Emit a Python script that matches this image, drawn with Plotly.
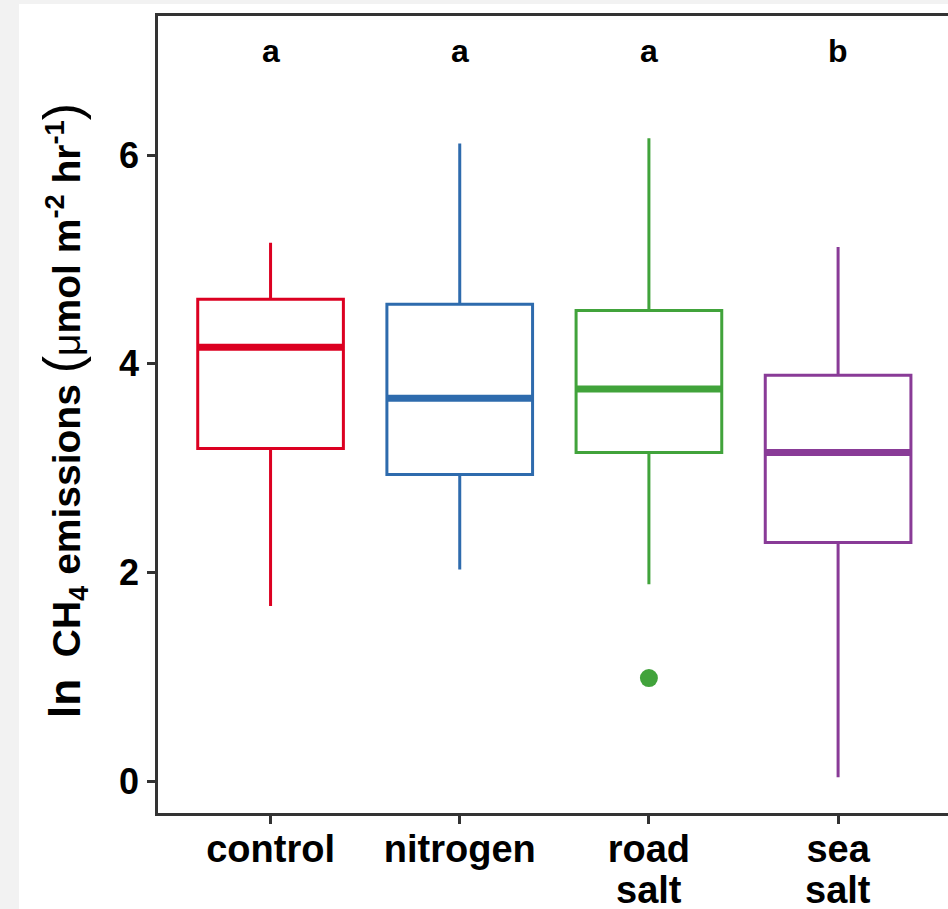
import plotly.graph_objects as go

# ---- data ----
categories = ["control", "nitrogen", "road salt", "sea salt"]
tick_lines = [["control"], ["nitrogen"], ["road", "salt"], ["sea", "salt"]]
lower_whisker = [1.68, 2.03, 1.89, 0.04]
q1 = [3.19, 2.94, 3.15, 2.29]
median = [4.16, 3.67, 3.76, 3.15]
q3 = [4.62, 4.57, 4.51, 3.89]
upper_whisker = [5.16, 6.11, 6.16, 5.12]
outlier_cat = ["road salt"]
outlier_val = [0.99]
letters = ["a", "a", "a", "b"]
letter_y = 7.0
colors = ["#DC0021", "#2E6BAD", "#41A33B", "#893B97"]
y_ticks = [0, 2, 4, 6]

# ---- layout constants ----
W, H = 948, 909
ML, MT, MB = 158, 16, 96
MR = 0
PW = W - ML - MR
PH = H - MT - MB
BOX_W = 0.77
FONT = "Liberation Sans"
AX = "#333333"
PAGE_BG = "#f2f2f2"
XFONT = 38
LINE2_TOP_PX = 868  # pixel top of second label line

pos = {c: i for i, c in enumerate(categories)}

fig = go.Figure()

for i, c in enumerate(categories):
    fig.add_trace(go.Box(
        x=[i], q1=[q1[i]], median=[median[i]], q3=[q3[i]],
        lowerfence=[lower_whisker[i]], upperfence=[upper_whisker[i]],
        width=BOX_W, fillcolor="rgba(0,0,0,0)",
        line=dict(color=colors[i], width=3), whiskerwidth=0,
        boxpoints=False, showlegend=False, hoverinfo="skip",
    ))
    # thicker median line, as in ggplot
    fig.add_trace(go.Scatter(
        x=[i - BOX_W / 2, i + BOX_W / 2], y=[median[i], median[i]],
        mode="lines", line=dict(color=colors[i], width=7),
        showlegend=False, hoverinfo="skip",
    ))

# outlier
fig.add_trace(go.Scatter(
    x=[pos[c] for c in outlier_cat], y=outlier_val, mode="markers",
    marker=dict(color=colors[pos[outlier_cat[0]]], size=18),
    showlegend=False, hoverinfo="skip",
))

# significance letters
for i, t in enumerate(letters):
    fig.add_annotation(x=i, y=letter_y, xref="x", yref="y", text="<b>" + t + "</b>",
                       showarrow=False,
                       font=dict(family=FONT, size=32, color="black"))

# second lines of the category labels (tighter line spacing than <br>)
for i, lines in enumerate(tick_lines):
    for ln in lines[1:]:
        fig.add_annotation(x=i, y=(MT + PH - LINE2_TOP_PX) / PH, xref="x", yref="paper",
                           text="<b>" + ln + "</b>", showarrow=False,
                           xanchor="center", yanchor="top", borderpad=0,
                           font=dict(family=FONT, size=XFONT, color="black"))

# y-axis title as rotated annotation
title = ("<span style='font-size:44px'><b>ln</b></span>"
         "<b>  CH<sub>4</sub> emissions </b>"
         "<span style='font-size:52px'>(</span>μ<b>mol m<sup>-2</sup> hr<sup>-1</sup></b>"
         "<span style='font-size:52px'>)</span>")
fig.add_annotation(x=(63 - ML) / PW, y=(MT + PH - 411) / PH, xref="paper", yref="paper",
                   text=title, textangle=-90, showarrow=False,
                   xanchor="center", yanchor="middle",
                   font=dict(family=FONT, size=39, color="black"))

# white panel over grey page
fig.add_shape(type="rect", xref="paper", yref="paper", layer="below",
              x0=(19 - ML) / PW, x1=(W + 20 - ML) / PW,
              y0=(MT + PH - (H + 20)) / PH, y1=(MT + PH - 4) / PH,
              fillcolor="white", line=dict(width=0))

fig.update_layout(
    width=W, height=H,
    margin=dict(l=ML, r=MR, t=MT, b=MB, pad=0, autoexpand=False),
    paper_bgcolor=PAGE_BG, plot_bgcolor="rgba(0,0,0,0)",
    font=dict(family=FONT, color="black"),
    xaxis=dict(
        range=[-0.595, 3.581], tickmode="array", automargin=False,
        tickvals=list(range(len(categories))),
        ticktext=["<b>" + lines[0] + "</b>" for lines in tick_lines],
        showgrid=False, zeroline=False,
        showline=True, mirror=True, linecolor=AX, linewidth=2.5,
        ticks="outside", ticklen=8, tickwidth=3, tickcolor=AX,
        tickfont=dict(family=FONT, size=XFONT, color="black"),
        ticklabelstandoff=-7,
    ),
    yaxis=dict(
        range=[-0.302, 7.332], tickmode="array", tickvals=y_ticks, automargin=False,
        ticktext=["<b>%d</b>" % v for v in y_ticks],
        showgrid=False, zeroline=False,
        showline=True, mirror=False, linecolor=AX, linewidth=2.5,
        ticks="outside", ticklen=8, tickwidth=3, tickcolor=AX,
        tickfont=dict(family=FONT, size=36, color="black"),
        ticklabelstandoff=1,
    ),
)

fig.write_html(
    "out.html",
    config={"displayModeBar": False},
    post_script="document.body.style.margin='0';document.body.style.overflow='hidden';"
                "document.body.style.background='%s';" % PAGE_BG,
)
